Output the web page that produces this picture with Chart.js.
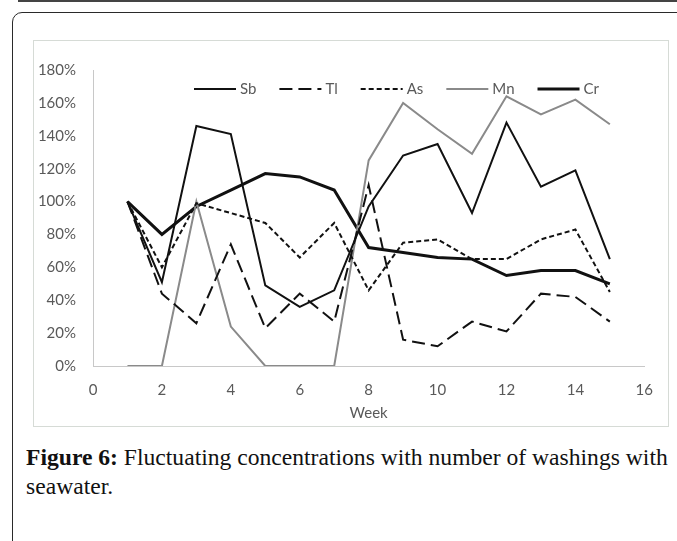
<!DOCTYPE html>
<html>
<head>
<meta charset="utf-8">
<script src="https://cdn.jsdelivr.net/npm/chart.js@4"></script>
<style>
  body { margin: 0; background: #fff; width: 677px; height: 541px; overflow: hidden; position: relative; }
  .topline { position: absolute; left: 18px; top: 0; width: 700px; height: 2px; background: #444; }
  .frame { position: absolute; left: 12px; top: 12px; width: 720px; height: 600px; border: 1.5px solid #2a2a2a; border-radius: 10px; }
  .box { position: absolute; left: 33px; top: 40px; width: 636px; height: 387px; border: 1px solid #d6dbd6; box-sizing: border-box; }
  .caption { position: absolute; left: 26px; top: 443px; width: 680px; font-family: "Liberation Serif", serif; font-size: 23.6px; line-height: 29px; color: #111; }
  .caption b { font-weight: bold; }
</style>
</head>
<body>
<div class="topline"></div>
<div class="frame"></div>
<div class="box"><canvas id="chart"></canvas></div>
<div class="caption"><b>Figure 6:</b> Fluctuating concentrations with number of washings with<br>seawater.</div>
<script>
// values in percent
const weeks = [1, 2, 3, 4, 5, 6, 7, 8, 9, 10, 11, 12, 13, 14, 15];
const sb = [100, 51, 146, 141, 49, 36, 46, 97, 128, 135, 93, 148, 109, 119, 65];
const tl = [100, 44, 26, 74, 23, 44, 27, 110, 16, 12, 27, 21, 44, 42, 27];
const as = [100, 60, 99, 93, 87, 66, 87, 46, 75, 77, 65, 65, 77, 83, 45];
const mn = [0, 0, 100, 24, 0, 0, 0, 125, 160, 144, 129, 164, 153, 162, 147];
const cr = [100, 80, 97, 107, 117, 115, 107, 72, 69, 66, 65, 55, 58, 58, 50];

const xTicks = [0, 2, 4, 6, 8, 10, 12, 14, 16];
const yTicks = [0, 20, 40, 60, 80, 100, 120, 140, 160, 180];

function pts(vals) {
    return weeks.map(function (w, i) { return { x: w, y: vals[i] }; });
}

const labelFont = { family: 'Lato', size: 15 };
const textColor = '#595959';

// legend drawn inside the plot, Excel style
const insideLegend = {
    id: 'insideLegend',
    afterDatasetsDraw(chart) {
        const ctx = chart.ctx;
        const area = chart.chartArea;
        let x = area.left + 101;
        const y = area.top + 19;
        ctx.save();
        ctx.font = '15px Lato';
        ctx.textBaseline = 'middle';
        chart.data.datasets.forEach(function (ds) {
            ctx.beginPath();
            ctx.setLineDash(ds.borderDash || []);
            ctx.strokeStyle = ds.borderColor;
            ctx.lineWidth = ds.borderWidth;
            ctx.moveTo(x, y);
            ctx.lineTo(x + 42, y);
            ctx.stroke();
            ctx.setLineDash([]);
            ctx.fillStyle = textColor;
            ctx.fillText(ds.label, x + 46, y);
            x += 46 + ctx.measureText(ds.label).width + 23;
        });
        ctx.restore();
    }
};

const chart = new Chart(document.getElementById('chart'), {
    type: 'line',
    data: {
        datasets: [
            { label: 'Sb', data: pts(sb), borderColor: '#111', borderWidth: 2 },
            { label: 'Tl', data: pts(tl), borderColor: '#111', borderWidth: 2, borderDash: [13, 6] },
            { label: 'As', data: pts(as), borderColor: '#111', borderWidth: 2, borderDash: [5, 3] },
            { label: 'Mn', data: pts(mn), borderColor: '#8a8a8a', borderWidth: 2 },
            { label: 'Cr', data: pts(cr), borderColor: '#111', borderWidth: 3 }
        ]
    },
    options: {
        responsive: true,
        maintainAspectRatio: false,
        animation: false,
        elements: { point: { radius: 0 }, line: { tension: 0, fill: false } },
        layout: { padding: { left: 0, right: 18, top: 29, bottom: 0 } },
        plugins: { legend: { display: false }, tooltip: { enabled: false } },
        scales: {
            x: {
                type: 'linear',
                min: 0,
                max: 16,
                afterBuildTicks: function (s) { s.ticks = xTicks.map(function (v) { return { value: v }; }); },
                afterFit: function (s) { s.height = 60; },
                grid: { display: false, drawTicks: false },
                border: { display: true, color: '#c8c8c8', width: 1, dash: [2, 2] },
                ticks: { color: textColor, font: labelFont, padding: 15, maxRotation: 0 },
                title: { display: true, text: 'Week', color: textColor, font: labelFont, padding: { top: 0, bottom: 4 } }
            },
            y: {
                min: 0,
                max: 180,
                afterBuildTicks: function (s) { s.ticks = yTicks.map(function (v) { return { value: v }; }); },
                afterFit: function (s) { s.width = 59; },
                grid: { display: false, drawTicks: false },
                border: { display: true, color: '#c8c8c8', width: 1, dash: [2, 2] },
                ticks: { color: textColor, font: labelFont, padding: 17, callback: function (v) { return v + '%'; } }
            }
        }
    },
    plugins: [insideLegend]
});
</script>
</body>
</html>
